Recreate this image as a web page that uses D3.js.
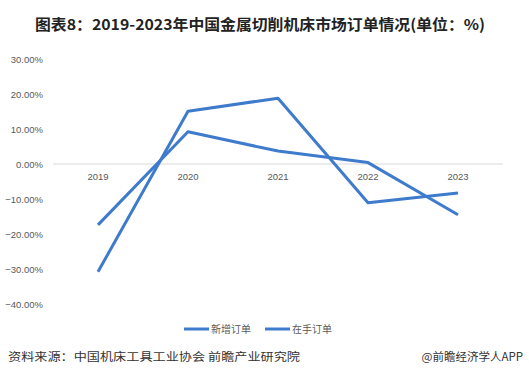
<!DOCTYPE html>
<html><head><meta charset="utf-8">
<script src="https://cdn.jsdelivr.net/npm/d3@7"></script>
<style>body{margin:0;background:#fff;}svg{display:block;font-family:"Microsoft YaHei","Noto Sans CJK SC",sans-serif;}</style>
</head><body><svg id="c" width="529" height="385"></svg>
<script>
const categories = ["2019","2020","2021","2022","2023"];
const newOrders = [-30.8, 15.1, 18.8, -11.1, -8.3];
const heldOrders = [-17.4, 9.2, 3.7, 0.4, -14.5];
const seriesNames = ["新增订单","在手订单"];
const yTicks = [30,20,10,0,-10,-20,-30,-40];

const svg = d3.select("#c");
const color = "#3f7bcc";
const x = d3.scaleBand().domain(categories).range([53,503]);
const y = d3.scaleLinear().domain([-40,30]).range([304,59]);

svg.append("text").attr("x",260).attr("y",30).attr("text-anchor","middle")
  .attr("font-size",15).attr("font-weight","bold").attr("fill","#222")
  .attr("textLength",450).attr("lengthAdjust","spacingAndGlyphs")
  .text("图表8：2019-2023年中国金属切削机床市场订单情况(单位：%)");

// y axis labels
const yAxis = d3.axisLeft(y).tickValues(yTicks).tickSize(0).tickPadding(0)
  .tickFormat(d => d3.format(".2f")(d) + "%");
const ga = svg.append("g").attr("transform","translate(43,0)").call(yAxis);
ga.select(".domain").remove();
ga.selectAll("text").attr("font-size",9.5).attr("fill","#595959").attr("font-family","Arial, 'Liberation Sans', sans-serif");

// zero line
svg.append("line").attr("x1",53).attr("x2",503).attr("y1",y(0)).attr("y2",y(0))
  .attr("stroke","#d9d9d9").attr("stroke-width",1);

// x labels
const xAxis = d3.axisBottom(x).tickSize(0).tickPadding(0);
const gx = svg.append("g").attr("transform",`translate(0,${y(0)+9})`).call(xAxis);
gx.select(".domain").remove();
gx.selectAll("text").attr("font-size",9.5).attr("fill","#595959").attr("font-family","Arial, 'Liberation Sans', sans-serif");

const line = d3.line().x((d,i)=>x(categories[i])+x.bandwidth()/2).y(d=>y(d));
[newOrders, heldOrders].forEach(s=>{
  svg.append("path").datum(s).attr("d",line).attr("fill","none")
    .attr("stroke",color).attr("stroke-width",3).attr("stroke-linejoin","round");
});

// legend
const lx = [184, 265];
seriesNames.forEach((n,i)=>{
  svg.append("line").attr("x1",lx[i]).attr("x2",lx[i]+25).attr("y1",329).attr("y2",329)
    .attr("stroke",color).attr("stroke-width",3);
  svg.append("text").attr("x",lx[i]+27).attr("y",333).attr("font-size",10).attr("fill","#595959").text(n);
});

// footer
svg.append("text").attr("x",8).attr("y",361).attr("font-size",11.5).attr("fill","#333")
  .attr("textLength",292).attr("lengthAdjust","spacingAndGlyphs")
  .text("资料来源：中国机床工具工业协会 前瞻产业研究院");
svg.append("text").attr("x",523).attr("y",361).attr("font-size",11.5).attr("fill","#333")
  .attr("text-anchor","end").text("@前瞻经济学人APP");
</script></body></html>
